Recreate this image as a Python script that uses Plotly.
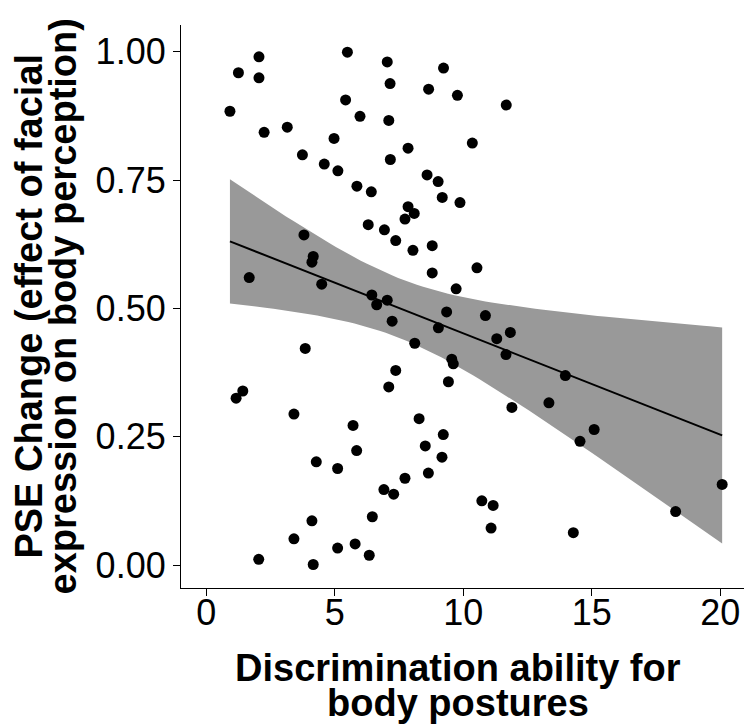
import numpy as np
import plotly.graph_objects as go

# Discrimination ability (x) and PSE change (y)
disc_ability = [
    2.05, 1.25, 2.05, 0.92, 2.25, 3.15, 5.49, 7.04, 9.23, 7.15,
    8.65, 9.77, 5.42, 5.98, 7.10, 4.97, 7.85, 3.74, 7.16, 4.59,
    5.12, 8.59, 9.02, 5.86, 6.42, 9.18, 9.87, 7.85, 8.09, 7.73,
    6.30, 6.93, 7.37, 8.04, 8.79, 8.79, 9.72, 3.80, 4.16, 4.11,
    1.67, 4.49, 6.44, 7.04, 6.63, 9.35, 7.23, 11.67, 10.35, 10.53,
    10.86, 9.03, 8.11, 3.85, 9.55, 9.61, 7.37, 7.10, 9.42, 1.42,
    1.16, 3.41, 5.71, 8.28, 9.22, 5.85, 8.52, 9.17, 4.28, 5.11,
    8.64, 7.73, 6.91, 7.29, 6.46, 4.11, 3.41, 5.11, 5.79, 6.34,
    2.04, 4.16, 11.83, 11.30, 11.66, 13.97, 11.89, 13.33, 15.09, 14.54,
    20.07, 18.26, 10.72, 11.16, 11.08, 14.28,
]
pse_change = [
    0.990, 0.959, 0.949, 0.884, 0.843, 0.853, 0.999, 0.980, 0.968, 0.938,
    0.927, 0.915, 0.906, 0.874, 0.866, 0.831, 0.812, 0.799, 0.790, 0.781,
    0.768, 0.760, 0.747, 0.738, 0.727, 0.716, 0.706, 0.698, 0.685, 0.674,
    0.663, 0.653, 0.632, 0.613, 0.622, 0.569, 0.538, 0.643, 0.601, 0.590,
    0.560, 0.547, 0.526, 0.516, 0.507, 0.493, 0.475, 0.896, 0.822, 0.579,
    0.486, 0.462, 0.432, 0.422, 0.401, 0.392, 0.379, 0.347, 0.357, 0.339,
    0.325, 0.294, 0.272, 0.285, 0.254, 0.223, 0.232, 0.210, 0.201, 0.188,
    0.179, 0.169, 0.147, 0.138, 0.094, 0.086, 0.051, 0.033, 0.041, 0.019,
    0.011, 0.001, 0.453, 0.441, 0.410, 0.369, 0.307, 0.316, 0.264, 0.241,
    0.157, 0.104, 0.125, 0.116, 0.072, 0.063,
]

x_ticks = [0, 5, 10, 15, 20]
y_ticks = [0.0, 0.25, 0.5, 0.75, 1.0]
y_tick_labels = ["0.00", "0.25", "0.50", "0.75", "1.00"]

x_title_lines = ["Discrimination ability for", "body postures"]
y_title_lines = ["PSE Change (effect of facial", "expression on body perception)"]

# linear model fit with 95% confidence band (like geom_smooth(method="lm"))
x = np.array(disc_ability)
y = np.array(pse_change)
n = len(x)
slope, intercept = np.polyfit(x, y, 1)
resid = y - (intercept + slope * x)
s = np.sqrt(np.sum(resid ** 2) / (n - 2))
xm = x.mean()
sxx = np.sum((x - xm) ** 2)
t_crit = 1.9855
xg = np.linspace(x.min(), x.max(), 80)
yg = intercept + slope * xg
se = s * np.sqrt(1.0 / n + (xg - xm) ** 2 / sxx)
lo = yg - t_crit * se
hi = yg + t_crit * se

FONT = "Liberation Sans, Arial, sans-serif"

fig = go.Figure()
fig.add_trace(go.Scatter(
    x=np.concatenate([xg, xg[::-1]]), y=np.concatenate([hi, lo[::-1]]),
    fill="toself", fillcolor="#999999", line=dict(width=0),
    mode="lines", hoverinfo="skip", showlegend=False,
))
fig.add_trace(go.Scatter(
    x=xg, y=yg, mode="lines", line=dict(color="black", width=2),
    showlegend=False,
))
fig.add_trace(go.Scatter(
    x=disc_ability, y=pse_change, mode="markers",
    marker=dict(color="black", size=11, line=dict(width=0)),
    showlegend=False,
))

axis_common = dict(
    showgrid=False, zeroline=False, showline=True, linecolor="black",
    linewidth=1.2, ticks="outside", ticklen=7, tickwidth=1.2,
    tickcolor="black", tickfont=dict(family=FONT, size=36, color="black"),
)
fig.update_xaxes(range=[-0.984, 20.92], tickvals=x_ticks,
                 ticklabelstandoff=-14, **axis_common)
fig.update_yaxes(range=[-0.0448, 1.052], tickvals=y_ticks,
                 ticktext=y_tick_labels, **axis_common)

annotations = []
for txt, yp in zip(x_title_lines, [-0.142, -0.205]):
    annotations.append(dict(
        text="<b>%s</b>" % txt, xref="paper", yref="paper", x=0.492, y=yp,
        xanchor="center", yanchor="middle", showarrow=False,
        font=dict(family=FONT, size=38, color="black"),
    ))
for txt, xp in zip(y_title_lines, [-0.2716, -0.2096]):
    annotations.append(dict(
        text="<b>%s</b>" % txt, xref="paper", yref="paper", x=xp, y=0.5,
        xanchor="center", yanchor="middle", showarrow=False, textangle=-90,
        font=dict(family=FONT, size=38, color="black"),
    ))

fig.update_layout(
    width=744, height=724,
    margin=dict(l=181, r=0, t=25, b=136),
    plot_bgcolor="white", paper_bgcolor="white",
    annotations=annotations,
    showlegend=False,
)

fig.write_html("out.html")
